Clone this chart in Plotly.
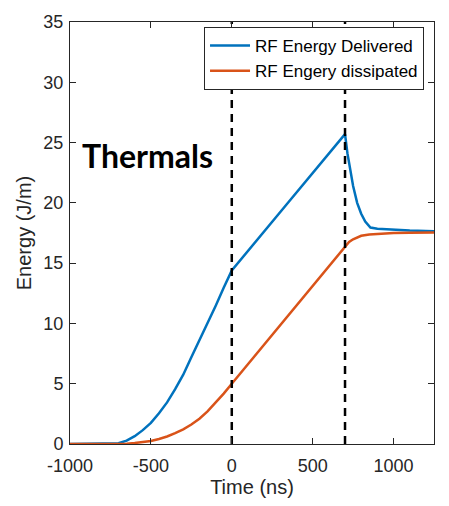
import plotly.graph_objects as go

# Time axis (ns) and readings
t_delivered = [-1000, -900, -800, -750, -700, -650, -600, -550, -500, -450, -400, -350, -300,
               -250, -200, -150, -100, -50, -20, 0, 350, 700, 715, 733, 750, 775, 800, 825,
               845, 857, 900, 1000, 1100, 1250]
e_delivered = [0, 0, 0, 0.01, 0.06, 0.28, 0.65, 1.15, 1.75, 2.55, 3.45, 4.55, 5.75,
               7.2, 8.6, 10.0, 11.45, 12.95, 13.9, 14.4, 20.05, 25.7, 24.1, 22.75, 21.4, 20.0, 19.1, 18.45,
               18.1, 17.95, 17.85, 17.75, 17.7, 17.65]

t_dissipated = [-1000, -900, -800, -700, -650, -600, -550, -500, -450, -400, -350, -300, -250,
                -200, -150, -100, -50, 0, 350, 700, 725, 750, 775, 800, 850, 900, 1000, 1100, 1250]
e_dissipated = [0, 0, 0, 0.01, 0.03, 0.08, 0.15, 0.25, 0.42, 0.62, 0.9, 1.22, 1.62,
                2.1, 2.7, 3.4, 4.18, 5.0, 10.7, 16.4, 16.75, 16.98, 17.15, 17.27, 17.38, 17.44, 17.5, 17.53, 17.55]

marker_times = [0, 700]
x_ticks = [-1000, -500, 0, 500, 1000]
y_ticks = [0, 5, 10, 15, 20, 25, 30, 35]
x_range = [-1000, 1250]
y_range = [0, 35]

fig = go.Figure()
fig.add_trace(go.Scatter(x=t_delivered, y=e_delivered, mode="lines", name="RF Energy Delivered",
                         line=dict(color="#0072BD", width=2.5)))
fig.add_trace(go.Scatter(x=t_dissipated, y=e_dissipated, mode="lines", name="RF Engery dissipated",
                         line=dict(color="#D95319", width=2.5)))
for tm in marker_times:
    fig.add_trace(go.Scatter(x=[tm, tm], y=y_range, mode="lines", showlegend=False,
                             line=dict(color="black", width=2.5, dash="8px,6px"),
                             hoverinfo="skip"))

fig.add_annotation(x=-521, y=23.9, text="<b>Thermals</b>", showarrow=False,
                   font=dict(family="Lato", size=32, color="black"),
                   xanchor="center", yanchor="middle")

axis_common = dict(showgrid=False, zeroline=False, showline=True, linecolor="#262626",
                   linewidth=1, mirror="ticks", ticks="inside", ticklen=6, tickcolor="#262626",
                   tickfont=dict(family="Liberation Sans, Arial", size=18, color="#262626"))

fig.update_xaxes(range=x_range, tickvals=x_ticks, ticktext=[str(v) for v in x_ticks],
                 ticklabelstandoff=5,
                 title=dict(text="Time (ns)", font=dict(family="Liberation Sans, Arial", size=20, color="#262626"), standoff=4),
                 **axis_common)
fig.update_yaxes(range=y_range, tickvals=y_ticks, ticklabelstandoff=2,
                 title=dict(text="Energy (J/m)", font=dict(family="Liberation Sans, Arial", size=20, color="#262626"), standoff=6),
                 **axis_common)

fig.update_layout(
    width=449, height=506,
    margin=dict(l=70, r=15, t=17, b=62),
    plot_bgcolor="white", paper_bgcolor="white",
    legend=dict(x=0.9726, y=0.988, xanchor="right", yanchor="top",
                bordercolor="#262626", borderwidth=1, bgcolor="white",
                font=dict(family="Liberation Sans, Arial", size=17, color="black"),
                itemwidth=40, tracegroupgap=0),
)

fig.write_html("out.html", config={"displayModeBar": False},
               post_script="document.body.style.margin='0';document.body.style.padding='0';")
